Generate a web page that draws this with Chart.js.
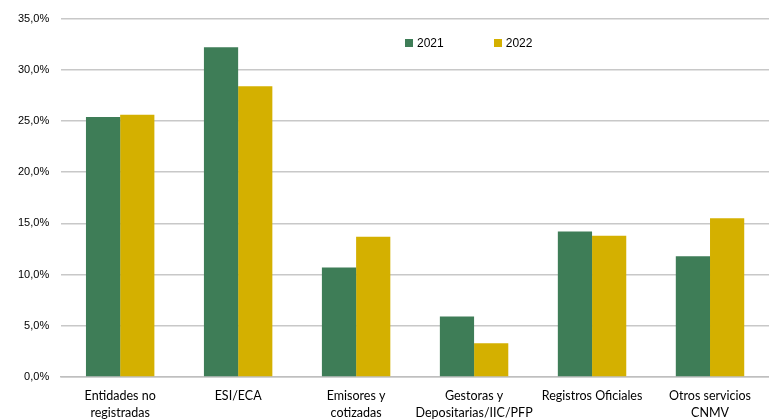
<!DOCTYPE html>
<html>
<head>
<meta charset="utf-8">
<script src="https://cdn.jsdelivr.net/npm/chart.js@4.4.0/dist/chart.umd.min.js"></script>
<style>
  html, body { margin: 0; padding: 0; background: #fff; }
  #wrap { position: relative; width: 769px; height: 419px; }
  #legend { position: absolute; top: 36px; left: 405px; font: 12px "Liberation Sans", Arial, sans-serif; color: #000; }
  #legend span.item { display: inline-block; margin-right: 50px; }
  #legend span.box { display: inline-block; width: 8px; height: 8px; margin-right: 4px; vertical-align: 0px; }
</style>
</head>
<body>
<div id="wrap">
  <canvas id="bar_chart" width="769" height="419"></canvas>
  <div id="legend"></div>
</div>
<script>
var categories = [
  ["Entidades no", "registradas"],
  ["ESI/ECA"],
  ["Emisores y", "cotizadas"],
  ["Gestoras y", "Depositarias/IIC/PFP"],
  ["Registros Oficiales"],
  ["Otros servicios", "CNMV"]
];
var series2021 = [25.4, 32.2, 10.7, 5.9, 14.2, 11.8];
var series2022 = [25.6, 28.4, 13.7, 3.3, 13.8, 15.5];
var seriesNames = ["2021", "2022"];
var seriesColors = ["#3E7D57", "#D4B000"];

var ctx = document.getElementById("bar_chart").getContext("2d");
var bar_chart = new Chart(ctx, {
  type: "bar",
  data: {
    labels: categories,
    datasets: [
      {
        label: seriesNames[0],
        data: series2021,
        backgroundColor: seriesColors[0],
        borderWidth: 0,
      },
      {
        label: seriesNames[1],
        data: series2022,
        backgroundColor: seriesColors[1],
        borderWidth: 0,
      },
    ],
  },
  options: {
    responsive: false,
    animation: false,
    layout: {
      padding: { left: 6, right: 0, top: -2, bottom: -5 },
    },
    datasets: {
      bar: {
        barPercentage: 1,
        categoryPercentage: 0.58,
      },
    },
    scales: {
      x: {
        grid: { display: false },
        border: { color: "#BFBFBF", width: 1.5 },
        ticks: {
          color: "#000",
          maxRotation: 0,
          autoSkip: false,
          padding: 2,
          font: { family: "Lato", size: 12.5, lineHeight: 1.4 },
        },
      },
      y: {
        min: 0,
        max: 35,
        grid: { color: "#C8C8C8", lineWidth: 1.5, drawTicks: false },
        border: { display: false },
        ticks: {
          stepSize: 5,
          padding: 12,
          color: "#000",
          font: { family: "Liberation Sans", size: 11 },
          callback: function (v) {
            return v.toFixed(1).replace(".", ",") + "%";
          },
        },
      },
    },
    plugins: {
      legend: { display: false },
      tooltip: { enabled: false },
    },
  },
});

// leyenda manual dentro del area del grafico
var legendDiv = document.getElementById("legend");
seriesNames.forEach(function (name, i) {
  var item = document.createElement("span");
  item.className = "item";
  var box = document.createElement("span");
  box.className = "box";
  box.style.background = seriesColors[i];
  item.appendChild(box);
  item.appendChild(document.createTextNode(name));
  legendDiv.appendChild(item);
});
</script>
</body>
</html>
